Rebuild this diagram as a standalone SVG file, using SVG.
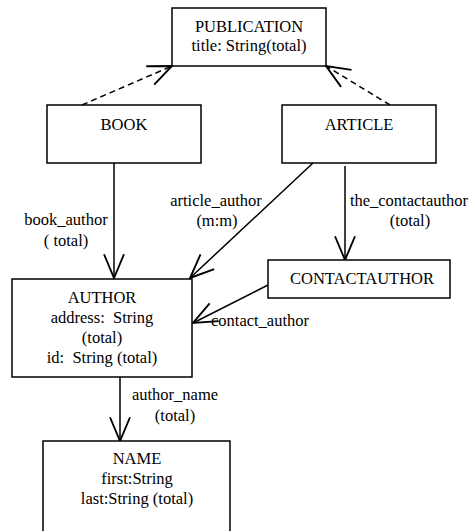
<svg xmlns="http://www.w3.org/2000/svg" width="471" height="531" viewBox="0 0 471 531">
<defs>
<style>
.box{fill:#fff;stroke:#000;stroke-width:1.5}
.t{font-size:16.5px;fill:#000;text-anchor:middle;white-space:pre}
.c{stroke:#000;stroke-width:1.5;fill:none}
.d{stroke-dasharray:6 4}
</style>
<marker id="open" markerUnits="userSpaceOnUse" markerWidth="30" markerHeight="30" refX="0" refY="0" viewBox="-22 -12 24 24" orient="auto" overflow="visible">
<path d="M-19,-8 L0,0 L-19,8" fill="none" stroke="#000" stroke-width="1.5"/>
</marker>
</defs>
<g font-family="'Liberation Serif', 'Times New Roman', 'DejaVu Serif', serif" xml:space="preserve">
<g id="connectors">
<line class="c d" x1="82" y1="105" x2="172" y2="66" marker-end="url(#open)"/>
<line class="c d" x1="390" y1="105" x2="326" y2="66" marker-end="url(#open)"/>
<line class="c" x1="114" y1="163" x2="114" y2="278" marker-end="url(#open)"/>
<line class="c" x1="313" y1="163" x2="190" y2="278" marker-end="url(#open)"/>
<line class="c" x1="345" y1="166" x2="345" y2="260" marker-end="url(#open)"/>
<line class="c" x1="268" y1="285" x2="193" y2="323" marker-end="url(#open)"/>
<line class="c" x1="120" y1="377" x2="120" y2="441" marker-end="url(#open)"/>
<text class="t" x="66" y="225">book_author</text>
<text class="t" x="66" y="246">( total)</text>
<text class="t" x="216" y="206">article_author</text>
<text class="t" x="217" y="226">(m:m)</text>
<text class="t" x="409" y="206">the_contactauthor</text>
<text class="t" x="410" y="226">(total)</text>
<text class="t" x="260" y="326">contact_author</text>
<text class="t" x="175" y="400">author_name</text>
<text class="t" x="175" y="421">(total)</text>
</g>
<g id="publication">
<rect class="box" x="172" y="8" width="154" height="58"/>
<text class="t" x="249" y="32">PUBLICATION</text>
<text class="t" x="249" y="51">title: String(total)</text>
</g>
<g id="book">
<rect class="box" x="47" y="105" width="154" height="58"/>
<text class="t" x="124" y="130">BOOK</text>
</g>
<g id="article">
<rect class="box" x="282" y="105" width="154" height="58"/>
<text class="t" x="359" y="130">ARTICLE</text>
</g>
<g id="contactauthor">
<rect class="box" x="268" y="260" width="182" height="38"/>
<text class="t" x="362" y="284">CONTACTAUTHOR</text>
</g>
<g id="author">
<rect class="box" x="12" y="279" width="180" height="98"/>
<text class="t" x="102" y="303">AUTHOR</text>
<text class="t" x="102" y="323">address:  String</text>
<text class="t" x="102" y="343">(total)</text>
<text class="t" x="102" y="363">id:  String (total)</text>
</g>
<g id="name">
<rect class="box" x="43" y="441" width="187" height="100"/>
<text class="t" x="137" y="464">NAME</text>
<text class="t" x="137" y="484">first:String</text>
<text class="t" x="137" y="504">last:String (total)</text>
</g>
</g>
</svg>
